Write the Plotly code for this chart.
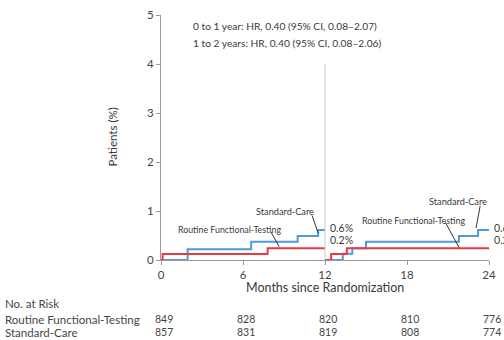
import plotly.graph_objects as go

# ---- data ----
rft_t1 = [0, 0.12, 7.8, 12]
rft_y1 = [0, 0.12, 0.24, 0.24]
sc_t1 = [0, 1.95, 6.6, 10.0, 11.5, 12]
sc_y1 = [0, 0.22, 0.37, 0.49, 0.61, 0.61]

rft_t2 = [12, 12.45, 13.6, 24]
rft_y2 = [0, 0.12, 0.24, 0.24]
sc_t2 = [12, 13.3, 14.0, 15.0, 21.8, 23.2, 24]
sc_y2 = [0, 0.13, 0.24, 0.37, 0.49, 0.61, 0.61]

risk_months = [0, 6, 12, 18, 24]
risk_rft = [849, 828, 820, 810, 776]
risk_sc = [857, 831, 819, 808, 774]

x_ticks = [0, 6, 12, 18, 24]
y_ticks = [0, 1, 2, 3, 4, 5]

hr_lines = ["0 to 1 year: HR, 0.40 (95% CI, 0.08\u20132.07)",
            "1 to 2 years: HR, 0.40 (95% CI, 0.08\u20132.06)"]

BLUE = "#4e9bd9"
RED = "#e83a44"
FONT = "Lato, 'Open Sans', sans-serif"
TXT = "#3a3a3a"

fig = go.Figure()
for t, y in [(sc_t1, sc_y1), (sc_t2, sc_y2)]:
    fig.add_trace(go.Scatter(x=t, y=y, mode="lines", line=dict(color=BLUE, width=2, shape="hv"),
                             showlegend=False, hoverinfo="skip"))
for t, y in [(rft_t1, rft_y1), (rft_t2, rft_y2)]:
    fig.add_trace(go.Scatter(x=t, y=y, mode="lines", line=dict(color=RED, width=2, shape="hv"),
                             showlegend=False, hoverinfo="skip"))

# landmark vertical line
fig.add_shape(type="line", x0=12, x1=12, y0=0, y1=4, xref="x", yref="y",
              line=dict(color="#c8c8c8", width=1))

# pointer lines
ptrs = [((11.05, 0.91), (11.5, 0.55)),
        ((8.05, 0.57), (8.65, 0.27)),
        ((23.35, 1.1), (23.05, 0.65)),
        ((20.8, 0.77), (21.8, 0.26))]
for (xa, ya), (xb, yb) in ptrs:
    fig.add_shape(type="line", x0=xa, y0=ya, x1=xb, y1=yb, xref="x", yref="y",
                  line=dict(color="#333333", width=1))

ann = []
# HR text
for txt, yy in zip(hr_lines, [4.77, 4.43]):
    ann.append(dict(x=2.2, y=yy, xref="x", yref="y", text=txt, showarrow=False,
                    xanchor="left", font=dict(size=10.2, color=TXT, family=FONT)))
# curve labels
lab_font = dict(size=8.8, color=TXT, family=FONT)
lab_font2 = dict(size=9.2, color=TXT, family=FONT)
ann += [
    dict(x=9.1, y=0.99, text="Standard-Care", font=lab_font2),
    dict(x=5.0, y=0.63, text="Routine Functional-Testing", font=lab_font),
    dict(x=21.7, y=1.2, text="Standard-Care", font=lab_font2),
    dict(x=18.5, y=0.81, text="Routine Functional-Testing", font=lab_font),
]
# end percentages
end_font = dict(size=10.5, color=TXT, family=FONT)
for xe, sy, ry in [(12, sc_y1[-1], rft_y1[-1]), (24, sc_y2[-1], rft_y2[-1])]:
    ann.append(dict(x=xe, y=0.66, text=f"{sy:.1f}%", xanchor="left", xshift=3, font=end_font))
    ann.append(dict(x=xe, y=0.41, text=f"{ry:.1f}%", xanchor="left", xshift=3, font=end_font))

for a in ann[2:]:
    a.setdefault("xref", "x")
    a.setdefault("yref", "y")
    a.setdefault("showarrow", False)

# axis titles
ann.append(dict(x=12, y=0, xref="x", yref="paper", yshift=-27, yanchor="middle",
                text="Months since Randomization",
                showarrow=False, font=dict(size=12.5, color=TXT, family=FONT)))
ann.append(dict(x=0, y=0.5, xref="paper", yref="paper", xshift=-49, xanchor="center",
                yanchor="middle", text="Patients (%)",
                textangle=-90, showarrow=False, font=dict(size=11.5, color=TXT, family=FONT)))

# risk table
lbl_font = dict(size=11.5, color="#444444", family=FONT)
num_font = dict(size=10.5, color="#444444", family=FONT)
rows = [("No. at Risk", -43, None), ("Routine Functional-Testing", -59, risk_rft),
        ("Standard-Care", -72, risk_sc)]
for label, ys, vals in rows:
    ann.append(dict(x=0, y=0, xref="paper", yref="paper", xshift=-158, yshift=ys, text=label,
                    xanchor="left", yanchor="middle", showarrow=False, font=lbl_font))
    if vals:
        for m, v in zip(risk_months, vals):
            ann.append(dict(x=m, y=0, xref="x", yref="paper", xshift=3, yshift=ys, text=str(v),
                            yanchor="middle", showarrow=False, font=num_font))

fig.update_layout(
    width=504, height=340,
    margin=dict(l=161, r=8, t=12, b=80),
    plot_bgcolor="white", paper_bgcolor="white",
    annotations=ann,
    xaxis=dict(range=[0, 24], tickvals=x_ticks, showgrid=False, zeroline=False,
               showline=True, linecolor="#9a9a9a", linewidth=1, ticks="outside", ticklen=4,
               tickcolor="#9a9a9a", tickfont=dict(size=11.5, color="#444", family=FONT)),
    yaxis=dict(range=[0, 5], tickvals=y_ticks, showgrid=False, zeroline=False,
               showline=True, linecolor="#9a9a9a", linewidth=1, ticks="outside", ticklen=4,
               tickcolor="#9a9a9a", tickfont=dict(size=11.5, color="#444", family=FONT)),
)

fig.write_html("out.html")
